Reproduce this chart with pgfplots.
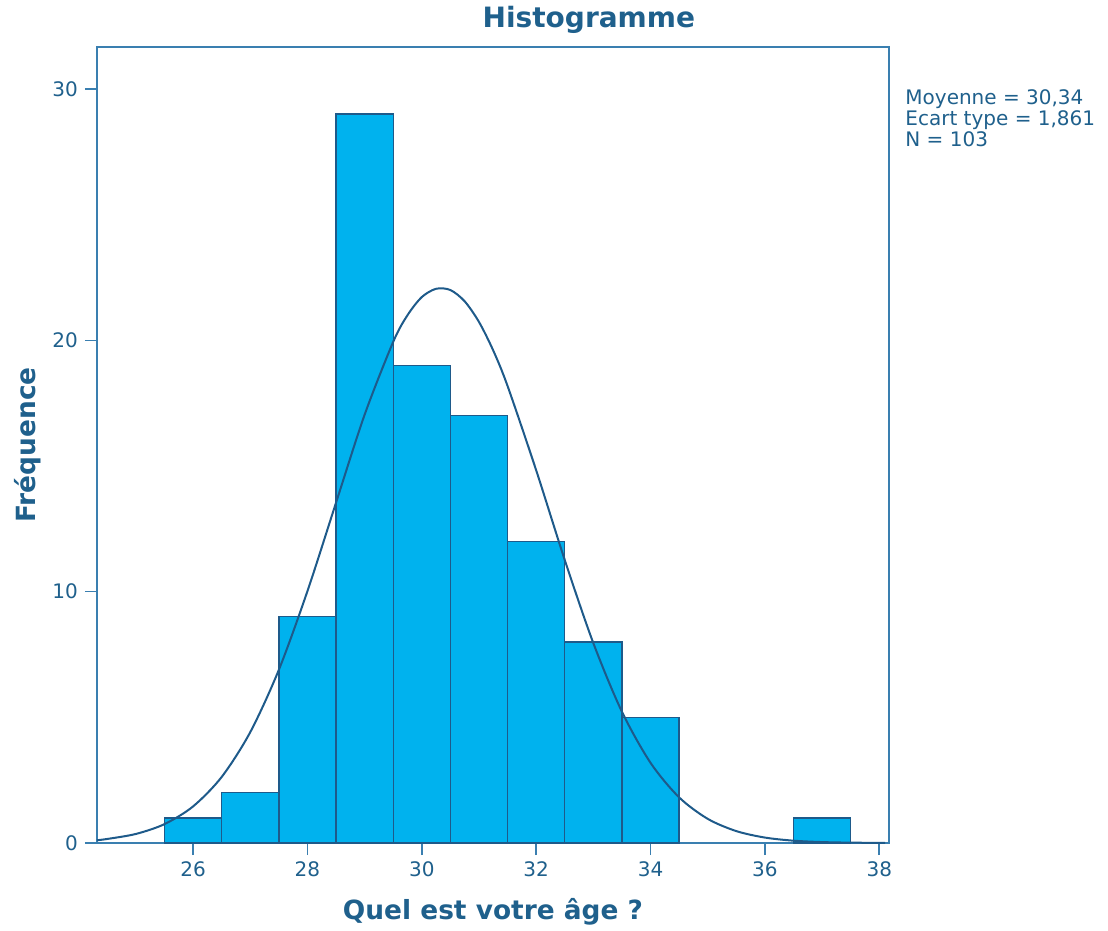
\documentclass[border=0pt]{standalone}
\usepackage{fontspec}
\setmainfont{DejaVu Sans}
\usepackage{pgfplots}
\pgfplotsset{compat=1.18}

\definecolor{txtblue}{HTML}{1F608C}
\definecolor{barfill}{HTML}{00B2EE}
\definecolor{bardraw}{HTML}{1E5A8A}
\definecolor{frameblue}{HTML}{3A7FB0}

\begin{document}
\begin{tikzpicture}
\begin{axis}[
    name=ax,
    scale only axis,
    width=396pt,
    height=398pt,
    xmin=24.32, xmax=38.17,
    ymin=0, ymax=31.67,
    xtick={26,28,...,38},
    ytick={0,10,20,30},
    tick align=outside,
    major tick length=6pt,
    axis line style={frameblue, line width=0.8pt},
    tick style={frameblue, line width=0.8pt},
    xtick pos=bottom, ytick pos=left,
    ticklabel style={font=\fontsize{10}{12}\selectfont, text=txtblue},
    /pgf/number format/assume math mode=true,
    clip=false,
    xlabel={Quel est votre âge ?},
    ylabel={Fréquence},
    every axis x label/.style={at={(axis description cs:0.5,-0.0867)}, anchor=center,
        font=\bfseries\fontsize{13.2}{15}\selectfont, text=txtblue},
    every axis y label/.style={at={(axis description cs:-0.0871,0.5)}, anchor=center, rotate=90,
        font=\bfseries\fontsize{13.2}{15}\selectfont, text=txtblue},
]
\addplot[ybar interval, fill=barfill, draw=bardraw, line width=0.7pt] coordinates {
    (25.5,1) (26.5,2) (27.5,9) (28.5,29) (29.5,19) (30.5,17)
    (31.5,12) (32.5,8) (33.5,5) (34.5,5)
};
\addplot[ybar interval, fill=barfill, draw=bardraw, line width=0.7pt] coordinates {
    (36.5,1) (37.5,1)
};
% normal curve, N = 103, mean 30.34, sd 1.861, values typed in
\addplot[smooth, draw=bardraw, line width=1pt] coordinates {
    (24.32,0.11) (24.5,0.161) (25,0.360) (25.5,0.751) (26,1.455) (26.5,2.627)
    (27,4.41) (27.5,6.89) (28,10.02) (28.5,13.54) (29,17.04) (29.5,19.94)
    (29.75,21.00) (30,21.72) (30.25,22.05) (30.5,22.00) (30.75,21.55)
    (31,20.73) (31.25,19.59) (31.5,18.18) (32,14.83)
    (32.5,11.26) (33,7.95) (33.5,5.22) (34,3.19) (34.5,1.815) (35,0.961)
    (35.5,0.473) (36,0.216) (36.5,0.092) (37,0.037) (37.5,0.014) (38.1,0.004)
};
\node[anchor=south, font=\bfseries\fontsize{14}{16}\selectfont, text=txtblue]
    at (rel axis cs:0.621,1) [yshift=3pt] {Histogramme};
\node[anchor=north west, align=left, inner sep=0pt, font=\fontsize{10}{8.3}\selectfont, text=txtblue]
    at (rel axis cs:1,1) [xshift=8pt, yshift=-21pt] {Moyenne = 30,34\\Ecart type = 1,861\\N = 103};
\end{axis}
\pgfresetboundingbox
\path ([xshift=-48.5pt,yshift=-44pt]ax.south west) rectangle ([xshift=109.5pt,yshift=23.5pt]ax.north east);
\end{tikzpicture}
\end{document}
